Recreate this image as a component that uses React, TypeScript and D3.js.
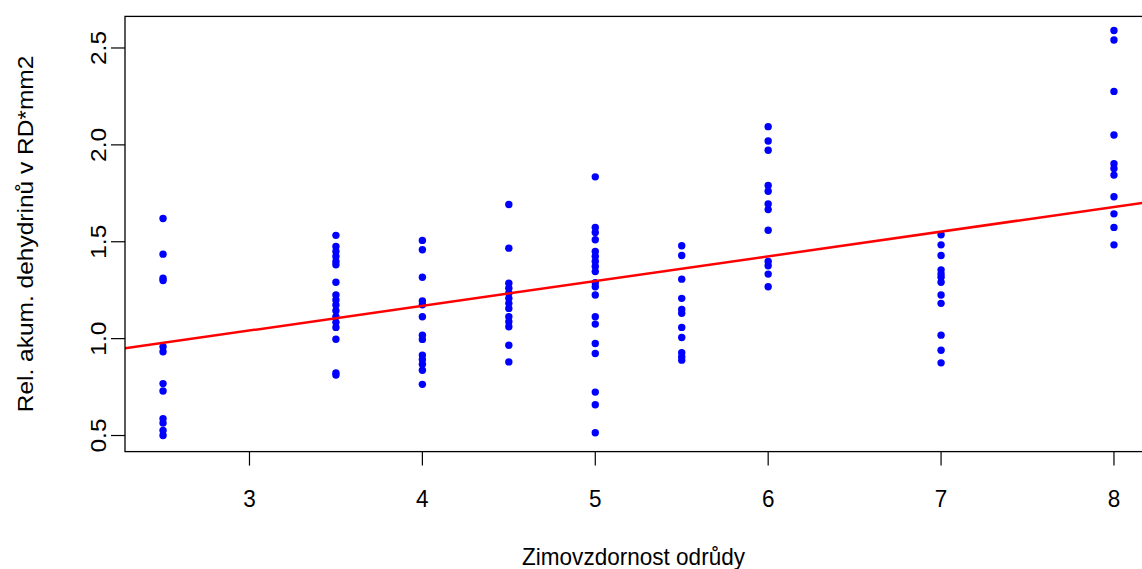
import React from "react";
import * as d3 from "d3";

const xTicks = [3, 4, 5, 6, 7, 8];
const yTicks = [0.5, 1.0, 1.5, 2.0, 2.5];

const x25 = [1.62, 1.436, 1.312, 1.30, 0.958, 0.932, 0.768, 0.73, 0.587, 0.564, 0.526, 0.50];
const x35 = [1.533, 1.476, 1.45, 1.424, 1.398, 1.381, 1.291, 1.225, 1.199, 1.174, 1.144, 1.113, 1.084, 1.058, 0.997, 0.823, 0.812];
const x40 = [1.507, 1.459, 1.317, 1.194, 1.175, 1.113, 1.018, 0.996, 0.915, 0.892, 0.868, 0.837, 0.764];
const x45 = [1.692, 1.467, 1.286, 1.26, 1.234, 1.208, 1.182, 1.156, 1.113, 1.087, 1.061, 0.966, 0.88];
const x50 = [1.835, 1.574, 1.548, 1.51, 1.45, 1.424, 1.398, 1.372, 1.346, 1.289, 1.268, 1.225, 1.113, 1.075, 0.975, 0.923, 0.724, 0.659, 0.514];
const x55 = [1.479, 1.429, 1.307, 1.208, 1.151, 1.131, 1.058, 1.006, 0.927, 0.906, 0.889];
const x60 = [2.094, 2.02, 1.972, 1.79, 1.761, 1.695, 1.666, 1.559, 1.398, 1.376, 1.333, 1.268];
const x70 = [1.536, 1.484, 1.429, 1.355, 1.334, 1.317, 1.291, 1.225, 1.182, 1.018, 0.94, 0.875];
const x80 = [2.59, 2.541, 2.276, 2.051, 1.903, 1.878, 1.844, 1.732, 1.644, 1.574, 1.484];

const groups: [number, number[]][] = [
  [2.5, x25], [3.5, x35], [4.0, x40], [4.5, x45], [5.0, x50],
  [5.5, x55], [6.0, x60], [7.0, x70], [8.0, x80],
];

const fitIntercept = 0.659;
const fitSlope = 0.1276;

const xLabel = "Zimovzdornost odrůdy";
const yLabel = "Rel. akum. dehydrinů v RD*mm2";

export default function App() {
  const W = 1142, H = 569;
  const left = 125, right = 1152, top = 16.4, bottom = 451.6;
  const x = d3.scaleLinear().domain([2.28, 8.22]).range([left, right]);
  const y = d3.scaleLinear().domain([0.417, 2.663]).range([bottom, top]);
  const points = groups.flatMap(([gx, vals]) => vals.map((v) => [gx, v] as [number, number]));
  const xd = x.domain();
  const font = "'Liberation Sans', Arial, sans-serif";
  const fs = 24.5;
  const sx = 0.92;
  return (
    <svg width={W} height={H} style={{ position: "absolute", left: 0, top: 0, background: "#fff" }}>
      <defs>
        <clipPath id="plotclip">
          <rect x={left} y={top} width={right - left} height={bottom - top} />
        </clipPath>
      </defs>
      <rect x={0} y={0} width={W} height={H} fill="#fff" />
      <g clipPath="url(#plotclip)">
        {points.map(([px, py], i) => (
          <circle key={i} cx={x(px)} cy={y(py)} r={3.7} fill="#0000ff" />
        ))}
        <line
          x1={x(xd[0])} y1={y(fitIntercept + fitSlope * xd[0])}
          x2={x(xd[1])} y2={y(fitIntercept + fitSlope * xd[1])}
          stroke="#ff0000" strokeWidth={2.5}
        />
      </g>
      <rect x={left} y={top} width={right - left} height={bottom - top} fill="none" stroke="#000" strokeWidth={1.3} />
      {xTicks.map((t) => (
        <g key={t}>
          <line x1={x(t)} x2={x(t)} y1={bottom} y2={bottom + 14} stroke="#000" strokeWidth={1.2} />
          <text transform={`translate(${x(t)},507) scale(${sx},1)`} textAnchor="middle" fontFamily={font} fontSize={fs} fill="#000">{t}</text>
        </g>
      ))}
      {yTicks.map((t) => (
        <g key={t}>
          <line x1={left} x2={left - 14} y1={y(t)} y2={y(t)} stroke="#000" strokeWidth={1.2} />
          <text transform={`translate(106,${y(t)}) scale(${sx},1) rotate(-90)`} textAnchor="middle" fontFamily={font} fontSize={fs} fill="#000">{t.toFixed(1)}</text>
        </g>
      ))}
      <text transform={`translate(${(left + right) / 2 - 5},565) scale(${sx},1)`} textAnchor="middle" fontFamily={font} fontSize={fs} fill="#000">{xLabel}</text>
      <text transform={`translate(33,${(top + bottom) / 2}) scale(${sx},1) rotate(-90)`} textAnchor="middle" fontFamily={font} fontSize={fs} fill="#000">{yLabel}</text>
    </svg>
  );
}
